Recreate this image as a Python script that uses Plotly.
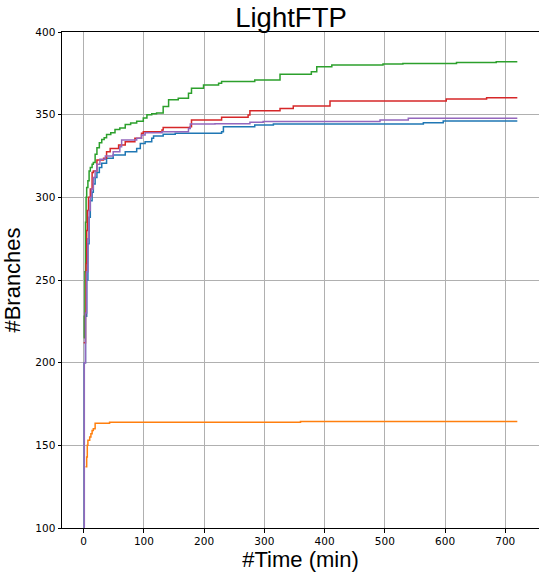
import plotly.graph_objects as go

# ---- data ----
blue_t = [0, 1, 3, 5, 7, 9, 11, 14, 16, 19, 22, 26, 30, 38, 49, 69, 88, 94, 102, 113, 116, 132, 152, 229, 232, 284, 315, 564, 597, 720]
blue_y = [100, 200, 228, 250, 272, 288, 298, 303, 308, 312, 315, 318, 320.6, 323.6, 325.6, 327.6, 329.6, 332.6, 333.6, 335.7, 337.1, 338.1, 338.7, 339.7, 342.7, 343.7, 344.3, 345.1, 346.1, 346.1]

orange_t = [3, 5, 6, 7, 10, 12, 14, 16, 19, 43, 360, 720]
orange_y = [137, 143, 150, 153, 155, 157, 159, 160, 163.3, 164, 164.4, 164.4]

green_t = [0, 1, 2, 3, 4, 5, 7, 9, 11, 14, 16, 19, 22, 26, 30, 34, 38, 45, 52, 60, 69, 78, 88, 99, 105, 113, 121, 132, 141, 157, 174, 179, 199, 224, 229, 284, 326, 378, 387, 412, 497, 530, 619, 685, 720]
green_y = [215, 228, 255, 285, 300, 306, 310, 316, 318, 320, 321, 326, 330, 333, 335, 336, 338, 339, 341, 342, 344, 345, 346, 348, 350, 350.5, 351, 355, 359, 360, 363, 366, 368, 369, 370, 371, 374.5, 376, 379, 380, 380.6, 381, 381.6, 382, 382]

red_t = [0, 3, 4, 5, 6, 8, 11, 14, 16, 22, 33, 38, 44, 58, 69, 85, 96, 99, 130, 132, 177, 179, 229, 273, 276, 326, 348, 409, 602, 669, 720]
red_y = [212, 230, 260, 280, 292, 300, 305, 315, 316, 322.6, 323.6, 327.6, 329.6, 331.6, 333.6, 335.7, 338.7, 339.7, 340.7, 342.3, 342.7, 346.8, 348.4, 349.8, 352.4, 353.8, 355.2, 358.3, 359.5, 360.3, 360.3]

purple_t = [0, 1, 3, 5, 7, 9, 11, 13, 16, 19, 22, 27, 36, 49, 60, 63, 88, 96, 102, 130, 174, 177, 218, 276, 298, 492, 539, 720]
purple_y = [100, 200, 230, 255, 275, 292, 300, 305, 312, 316, 320, 323, 325, 327.6, 330.6, 334.7, 335.7, 337.7, 339.1, 339.7, 341.7, 344.3, 344.5, 345.4, 345.9, 346.8, 347.8, 347.8]

x_ticks = [0, 100, 200, 300, 400, 500, 600, 700]
y_ticks = [100, 150, 200, 250, 300, 350, 400]

series = [
    ("C0", blue_t, blue_y, "#1f77b4"),
    ("C1", orange_t, orange_y, "#ff7f0e"),
    ("C2", green_t, green_y, "#2ca02c"),
    ("C3", red_t, red_y, "#d62728"),
    ("C4", purple_t, purple_y, "#9467bd"),
]

fig = go.Figure()
for name, t, y, c in series:
    fig.add_trace(go.Scatter(x=t, y=y, mode="lines", name=name,
                             line=dict(color=c, width=1.5, shape="hv"),
                             showlegend=False))

tickfont = dict(family="DejaVu Sans", size=10.5, color="black")
titlefont = dict(family="Liberation Sans, Arial", size=22, color="black")

fig.update_layout(
    width=539, height=572,
    margin=dict(l=62, r=0, t=32, b=44),
    paper_bgcolor="white", plot_bgcolor="white",
    title=dict(text="LightFTP", x=291 / 539, xanchor="center",
               y=1 - 27 / 572, yanchor="bottom", yref="container",
               font=dict(family="Liberation Sans, Arial", size=27.5, color="black")),
    xaxis=dict(range=[-36, 756], tickvals=x_ticks, ticks="outside", ticklen=3.5,
               tickwidth=0.8, tickcolor="black", tickfont=tickfont,
               showgrid=True, gridcolor="#b0b0b0", gridwidth=0.8,
               showline=True, linecolor="black", linewidth=1, mirror=True,
               zeroline=False,
               title=dict(text="#Time (min)", font=titlefont, standoff=5)),
    yaxis=dict(range=[100, 400], tickvals=y_ticks, ticks="outside", ticklen=3.5,
               tickwidth=0.8, tickcolor="black", tickfont=tickfont,
               showgrid=True, gridcolor="#b0b0b0", gridwidth=0.8,
               showline=True, linecolor="black", linewidth=1,
               zeroline=False,
               title=dict(text="#Branches", font=titlefont, standoff=8)),
)

fig.write_html("out.html")
